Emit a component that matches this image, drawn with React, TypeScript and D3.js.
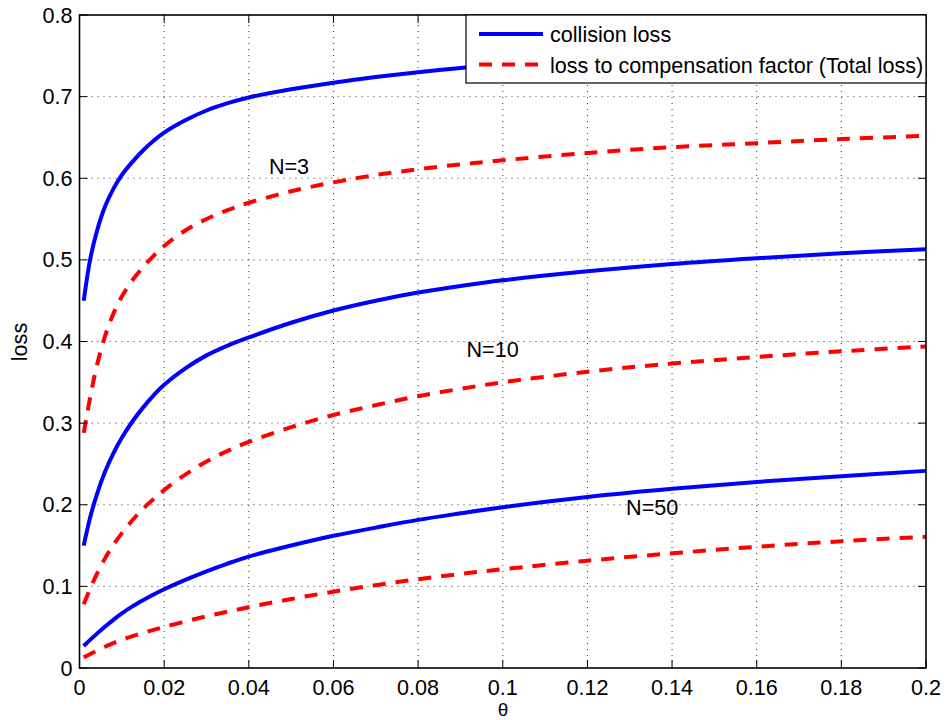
import React from "react";
import * as d3 from "d3";

const thetas = [0.001, 0.0025, 0.004, 0.006, 0.008, 0.01, 0.0125, 0.015, 0.0175, 0.02, 0.025, 0.03, 0.035, 0.04, 0.05, 0.06, 0.07, 0.08, 0.09, 0.1, 0.12, 0.14, 0.16, 0.18, 0.2];

const collisionN3 = [0.450, 0.500, 0.533, 0.565, 0.587, 0.604, 0.620, 0.634, 0.646, 0.656, 0.671, 0.683, 0.692, 0.699, 0.709, 0.717, 0.724, 0.730, 0.735, 0.739, 0.746, 0.752, 0.757, 0.761, 0.765];
const totalN3 = [0.288, 0.331, 0.368, 0.406, 0.434, 0.455, 0.475, 0.491, 0.505, 0.517, 0.536, 0.550, 0.561, 0.570, 0.584, 0.595, 0.604, 0.611, 0.617, 0.622, 0.631, 0.638, 0.643, 0.648, 0.652];
const collisionN10 = [0.150, 0.184, 0.211, 0.240, 0.263, 0.282, 0.302, 0.319, 0.334, 0.347, 0.367, 0.383, 0.395, 0.405, 0.423, 0.438, 0.450, 0.460, 0.468, 0.475, 0.486, 0.495, 0.502, 0.508, 0.513];
const totalN10 = [0.078, 0.097, 0.114, 0.134, 0.151, 0.165, 0.181, 0.195, 0.207, 0.218, 0.237, 0.253, 0.266, 0.277, 0.295, 0.310, 0.322, 0.333, 0.342, 0.350, 0.363, 0.373, 0.381, 0.388, 0.394];
const collisionN50 = [0.027, 0.0345, 0.0415, 0.0505, 0.059, 0.067, 0.0755, 0.083, 0.090, 0.0965, 0.108, 0.1185, 0.128, 0.1365, 0.150, 0.162, 0.172, 0.1815, 0.1895, 0.197, 0.2095, 0.2195, 0.228, 0.235, 0.2415];
const totalN50 = [0.013, 0.017, 0.021, 0.026, 0.0305, 0.0345, 0.039, 0.043, 0.0467, 0.0503, 0.057, 0.0633, 0.069, 0.0745, 0.0845, 0.0935, 0.1015, 0.1088, 0.1153, 0.121, 0.1315, 0.1405, 0.1485, 0.1553, 0.1608];

const xTicks = [0, 0.02, 0.04, 0.06, 0.08, 0.1, 0.12, 0.14, 0.16, 0.18, 0.2];
const xTickLabels = ["0", "0.02", "0.04", "0.06", "0.08", "0.1", "0.12", "0.14", "0.16", "0.18", "0.2"];
const yTicks = [0, 0.1, 0.2, 0.3, 0.4, 0.5, 0.6, 0.7, 0.8];
const yTickLabels = ["0", "0.1", "0.2", "0.3", "0.4", "0.5", "0.6", "0.7", "0.8"];

const curveLabels = [
  { text: "N=3", x: 0.0495, y: 0.6058 },
  { text: "N=10", x: 0.0976, y: 0.3816 },
  { text: "N=50", x: 0.1353, y: 0.1874 },
];

const legendItems = ["collision loss", "loss to compensation factor (Total loss)"];

const W = 947;
const H = 720;
const FONT = "'Liberation Sans', Arial, Helvetica, sans-serif";
const FS = 21.6;

export default function App() {
  const x = d3.scaleLinear().domain([0, 0.2]).range([79.5, 926]);
  const y = d3.scaleLinear().domain([0, 0.8]).range([668, 15]);
  const [x0, x1] = x.range();
  const [y0, y1] = y.range();

  const line = d3
    .line<number>()
    .x((_, i) => x(thetas[i]))
    .y((d) => y(d))
    .curve(d3.curveCatmullRom.alpha(0.5));

  const series = [
    { data: collisionN3, dashed: false },
    { data: totalN3, dashed: true },
    { data: collisionN10, dashed: false },
    { data: totalN10, dashed: true },
    { data: collisionN50, dashed: false },
    { data: totalN50, dashed: true },
  ];

  const blue = "#0000ff";
  const red = "#ff0000";
  const tickLen = 8;

  const legX = 466;
  const legY = y1;
  const legW = x1 - legX;
  const legH = 68;

  return (
    <svg
      width={W}
      height={H}
      style={{ position: "absolute", left: 0, top: 0, background: "#fff" }}
      fontFamily={FONT}
    >
      <rect x={0} y={0} width={W} height={H} fill="#fff" />
      {/* grid */}
      <g stroke="#000" strokeWidth={1} strokeDasharray="1,5" opacity={0.8}>
        {xTicks.slice(1, -1).map((t) => (
          <line key={"gx" + t} x1={x(t)} x2={x(t)} y1={y0} y2={y1} />
        ))}
        {yTicks.slice(1, -1).map((t) => (
          <line key={"gy" + t} x1={x0} x2={x1} y1={y(t)} y2={y(t)} />
        ))}
      </g>
      {/* curves */}
      {series.map((s, i) => (
        <path
          key={i}
          d={line(s.data) || ""}
          fill="none"
          stroke={s.dashed ? red : blue}
          strokeWidth={4}
          strokeDasharray={s.dashed ? "13,10" : undefined}
        />
      ))}
      {/* curve labels */}
      {curveLabels.map((l) => (
        <text key={l.text} x={x(l.x)} y={y(l.y)} fontSize={FS} textAnchor="middle" fill="#000">
          {l.text}
        </text>
      ))}
      {/* ticks */}
      <g stroke="#000" strokeWidth={1}>
        {xTicks.map((t) => (
          <g key={"tx" + t}>
            <line x1={x(t)} x2={x(t)} y1={y0} y2={y0 - tickLen} />
            <line x1={x(t)} x2={x(t)} y1={y1} y2={y1 + tickLen} />
          </g>
        ))}
        {yTicks.map((t) => (
          <g key={"ty" + t}>
            <line x1={x0} x2={x0 + tickLen} y1={y(t)} y2={y(t)} />
            <line x1={x1} x2={x1 - tickLen} y1={y(t)} y2={y(t)} />
          </g>
        ))}
      </g>
      {/* axes box */}
      <rect x={x0} y={y1} width={x1 - x0} height={y0 - y1} fill="none" stroke="#000" strokeWidth={1.6} />
      {/* tick labels */}
      {xTicks.map((t, i) => (
        <text key={"lx" + t} x={x(t)} y={694.5} fontSize={FS} textAnchor="middle" fill="#000">
          {xTickLabels[i]}
        </text>
      ))}
      {yTicks.map((t, i) => (
        <text key={"ly" + t} x={72.5} y={y(t)} fontSize={FS} textAnchor="end" dominantBaseline="central" fill="#000">
          {yTickLabels[i]}
        </text>
      ))}
      {/* axis labels */}
      <text x={503} y={715.5} fontSize={19} textAnchor="middle" fill="#000">θ</text>
      <text
        transform={`translate(27,342) rotate(-90)`}
        fontSize={FS}
        textAnchor="middle"
        fill="#000"
      >
        loss
      </text>
      {/* legend */}
      <rect x={legX} y={legY} width={legW} height={legH} fill="#fff" stroke="#000" strokeWidth={1.2} />
      <line x1={479} x2={543} y1={34} y2={34} stroke={blue} strokeWidth={4} />
      <line x1={479} x2={543} y1={64.5} y2={64.5} stroke={red} strokeWidth={4} strokeDasharray="13,10" />
      <text x={550} y={34.5} fontSize={FS} dominantBaseline="central" fill="#000">{legendItems[0]}</text>
      <text x={550} y={65.5} fontSize={FS} dominantBaseline="central" fill="#000">{legendItems[1]}</text>
    </svg>
  );
}
